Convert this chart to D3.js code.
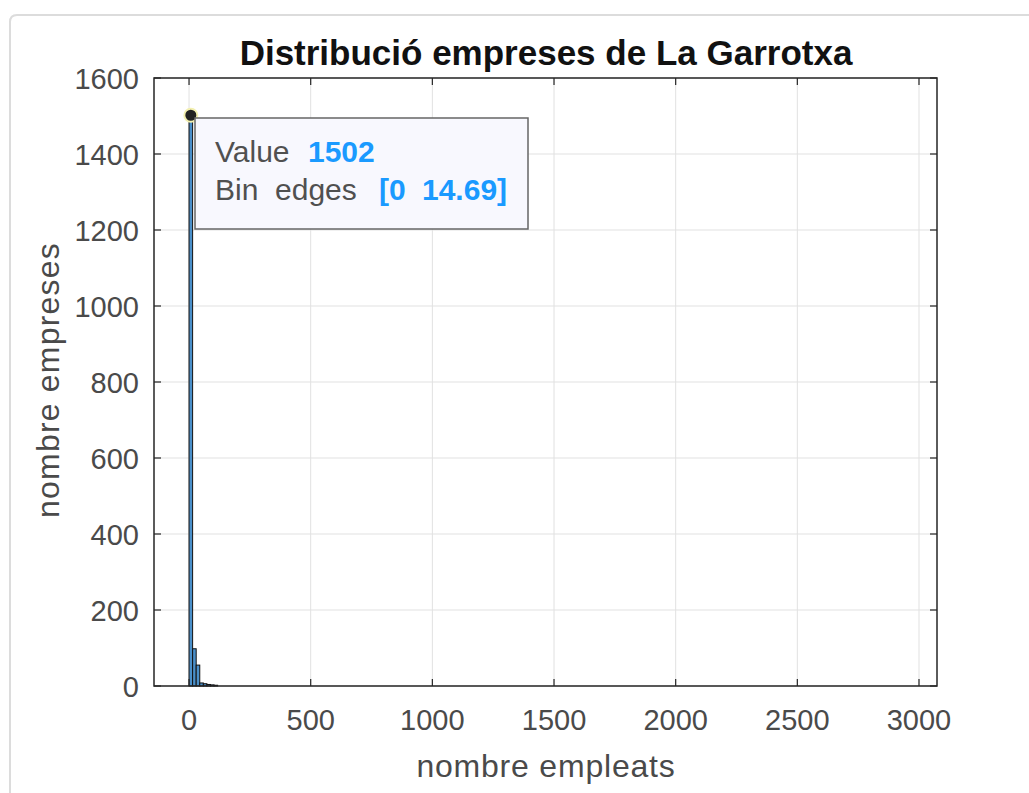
<!DOCTYPE html>
<meta charset="utf-8">
<script src="https://d3js.org/d3.v7.js"></script>
<style>
  body { margin: 0; background: #fff; }
  text { font-family: "Liberation Sans", Arial, sans-serif; }
</style>
<svg id="chart" width="1029" height="793"></svg>
<script>

// histogram data (bin width 14.69, counts per bin)
const binWidth = 14.69;
const binCounts = [1502, 98, 55, 8, 6, 4, 3, 2];
const xTicks = [0, 500, 1000, 1500, 2000, 2500, 3000];
const yTicks = [0, 200, 400, 600, 800, 1000, 1200, 1400, 1600];
const tipLabels = ["Value", "Bin  edges"];
const tipValues = [["1502"], ["[0", "14.69]"]];

const svg = d3.select("#chart");

// outer panel
svg.append("path")
  .attr("d", "M10,800 L10,22 Q10,15 17,15 L1040,15")
  .attr("fill", "none")
  .attr("stroke", "#dcdcdc")
  .attr("stroke-width", 2);

const margin = {left: 154, top: 78, right: 937, bottom: 686};

const x = d3.scaleLinear().domain([-144, 3074]).range([margin.left, margin.right]);
const y = d3.scaleLinear().domain([0, 1600]).range([margin.bottom, margin.top]);

// grid
svg.append("g").selectAll("line")
  .data(xTicks)
  .join("line")
    .attr("x1", d => x(d)).attr("x2", d => x(d))
    .attr("y1", margin.top).attr("y2", margin.bottom)
    .attr("stroke", "#e1e1e1").attr("stroke-width", 1);
svg.append("g").selectAll("line")
  .data(yTicks)
  .join("line")
    .attr("x1", margin.left).attr("x2", margin.right)
    .attr("y1", d => y(d)).attr("y2", d => y(d))
    .attr("stroke", "#e1e1e1").attr("stroke-width", 1);

// bars
const bins = binCounts.map((c, i) => ({x0: i * binWidth, x1: (i + 1) * binWidth, n: c}));

svg.append("g").selectAll("rect")
  .data(bins)
  .join("rect")
    .attr("x", d => x(d.x0))
    .attr("width", d => x(d.x1) - x(d.x0))
    .attr("y", d => y(d.n))
    .attr("height", d => y(0) - y(d.n))
    .attr("fill", "#4a8fc9")
    .attr("stroke", "#111")
    .attr("stroke-width", 1);

// axes box + inward ticks on all sides
const axisColor = "#262626";
svg.append("rect")
  .attr("x", margin.left).attr("y", margin.top)
  .attr("width", margin.right - margin.left).attr("height", margin.bottom - margin.top)
  .attr("fill", "none").attr("stroke", axisColor).attr("stroke-width", 1.5);

const tk = 7;
const ticks = svg.append("g").attr("stroke", axisColor).attr("stroke-width", 1.2);
xTicks.forEach(d => {
  ticks.append("line").attr("x1", x(d)).attr("x2", x(d)).attr("y1", margin.bottom).attr("y2", margin.bottom - tk);
  ticks.append("line").attr("x1", x(d)).attr("x2", x(d)).attr("y1", margin.top).attr("y2", margin.top + tk);
});
yTicks.forEach(d => {
  ticks.append("line").attr("x1", margin.left).attr("x2", margin.left + tk).attr("y1", y(d)).attr("y2", y(d));
  ticks.append("line").attr("x1", margin.right).attr("x2", margin.right - tk).attr("y1", y(d)).attr("y2", y(d));
});

// tick labels
const labColor = "#4a4a4a";
svg.append("g").selectAll("text")
  .data(xTicks)
  .join("text")
    .attr("x", d => x(d)).attr("y", 730)
    .attr("text-anchor", "middle")
    .attr("font-size", 29).attr("fill", labColor)
    .text(d => d);
svg.append("g").selectAll("text")
  .data(yTicks)
  .join("text")
    .attr("x", 139).attr("y", d => y(d) + 11)
    .attr("text-anchor", "end")
    .attr("font-size", 29).attr("fill", labColor)
    .text(d => d);

// titles
svg.append("text")
  .attr("x", 546).attr("y", 65)
  .attr("text-anchor", "middle")
  .attr("font-size", 35).attr("font-weight", "bold").attr("fill", "#111")
  .text("Distribució empreses de La Garrotxa");
svg.append("text")
  .attr("x", 546).attr("y", 777)
  .attr("text-anchor", "middle")
  .attr("font-size", 32).attr("letter-spacing", 0.8).attr("fill", labColor)
  .text("nombre empleats");
svg.append("text")
  .attr("transform", "translate(59,380) rotate(-90)")
  .attr("text-anchor", "middle")
  .attr("font-size", 32).attr("letter-spacing", 1.2).attr("fill", labColor)
  .text("nombre empreses");

// datatip
const tipX = x(binWidth / 2), tipY = y(binCounts[0]);
svg.append("circle")
  .attr("cx", tipX).attr("cy", tipY)
  .attr("r", 6.5)
  .attr("fill", "#222").attr("stroke", "#f3f0b0").attr("stroke-width", 2);
svg.append("rect")
  .attr("x", 195).attr("y", 118).attr("width", 333).attr("height", 111)
  .attr("fill", "#f8f8fe").attr("stroke", "#666").attr("stroke-width", 1.5);
const tip = svg.append("g");
const valX = [[308], [379, 422]];
tipLabels.forEach((t, i) => {
  const row = tip.append("text")
    .attr("x", 215).attr("y", 162 + i * 38)
    .attr("font-size", 30).attr("fill", "#505050")
    .style("white-space", "pre")
    .text(t);
  tipValues[i].forEach((v, j) => {
    row.append("tspan")
      .attr("x", valX[i][j])
      .attr("fill", "#1a9aff").attr("font-weight", "bold")
      .text(v);
  });
});
</script>
